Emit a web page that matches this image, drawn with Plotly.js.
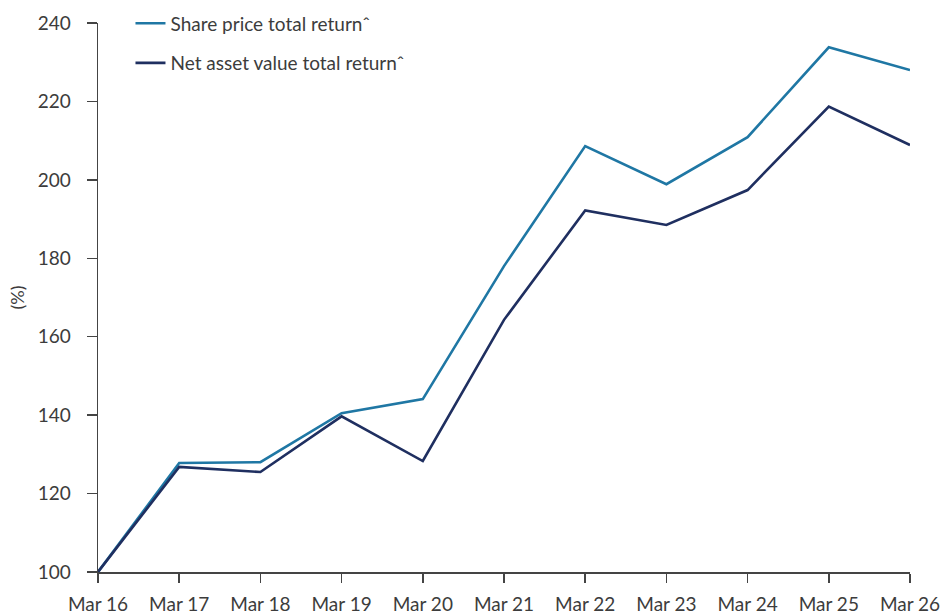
<!DOCTYPE html>
<html>
<head>
<meta charset="utf-8">
<script src="https://cdn.plot.ly/plotly-3.0.1.min.js"></script>
<style>html,body{margin:0;padding:0;background:#fff;}#chart{width:943px;height:616px;}</style>
</head>
<body>
<div id="chart"></div>
<script>
const categories = ["Mar 16","Mar 17","Mar 18","Mar 19","Mar 20","Mar 21","Mar 22","Mar 23","Mar 24","Mar 25","Mar 26"];
const sharePrice = [100, 127.8, 128.0, 140.5, 144.1, 178.0, 208.6, 198.9, 210.9, 233.8, 228.0];
const navReturn = [100, 126.8, 125.5, 139.7, 128.3, 164.3, 192.2, 188.5, 197.4, 218.7, 208.9];
const yTicks = [100, 120, 140, 160, 180, 200, 220, 240];

const traces = [
  {x: categories, y: sharePrice, type: "scatter", mode: "lines", name: "Share price total return\u02c6",
   line: {color: "#1f77a4", width: 2.6}, legendgroup: "a"},
  {x: categories, y: navReturn, type: "scatter", mode: "lines", name: "Net asset value total return\u02c6",
   line: {color: "#1f2f60", width: 2.6}, legendgroup: "b"}
];

const txt = "#3c3c3c";
const layout = {
  width: 943, height: 616,
  margin: {l: 98, r: 33, t: 23, b: 44, autoexpand: false},
  paper_bgcolor: "#fff", plot_bgcolor: "#fff",
  font: {family: "Lato, 'Open Sans', sans-serif", size: 19, color: txt},
  showlegend: true,
  legend: {x: 0.04, y: 1.034, xanchor: "left", yanchor: "top", bgcolor: "rgba(0,0,0,0)",
           font: {size: 19, color: txt}, traceorder: "grouped", tracegroupgap: 12, itemwidth: 30},
  xaxis: {type: "category", range: [0, 10], showgrid: false, zeroline: false,
          showline: true, linecolor: "#444", linewidth: 1.5,
          ticks: "outside", ticklen: 9, tickcolor: "#444", tickwidth: 1.5,
          ticklabelstandoff: 6,
          tickfont: {size: 19, color: txt}, fixedrange: true},
  yaxis: {range: [100, 240], tickvals: yTicks, ticktext: yTicks.map(String),
          showgrid: false, zeroline: false,
          showline: true, linecolor: "#444", linewidth: 1.5,
          ticks: "outside", ticklen: 10, tickcolor: "#444", tickwidth: 1.5,
          ticklabelstandoff: 12,
          tickfont: {size: 19, color: txt},
          title: {text: "(%)", font: {size: 18, color: txt}, standoff: 8}}
};

Plotly.newPlot("chart", traces, layout, {displayModeBar: false, staticPlot: true});
</script>
</body>
</html>
